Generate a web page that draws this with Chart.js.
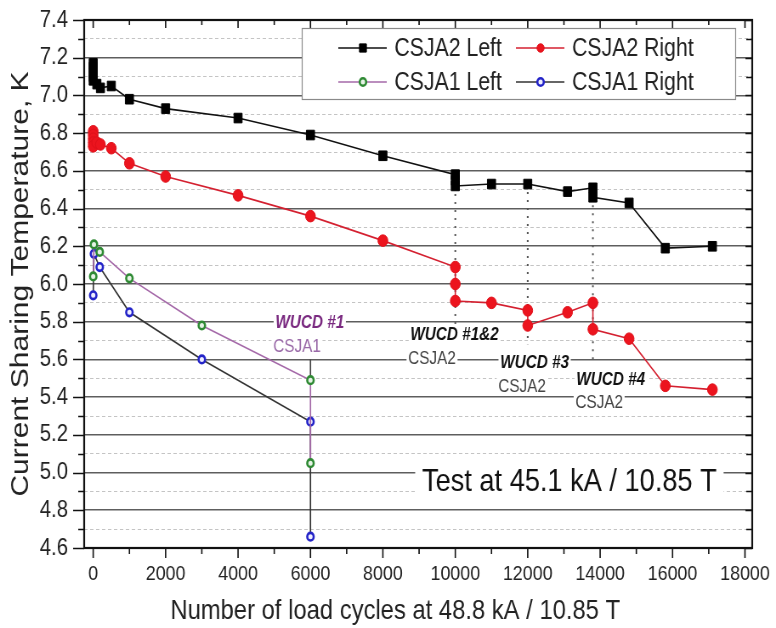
<!DOCTYPE html>
<html>
<head>
<meta charset="utf-8">
<script src="https://cdn.jsdelivr.net/npm/chart.js@4.4.1/dist/chart.umd.min.js"></script>
<style>
  html, body { margin: 0; padding: 0; background: #fff; overflow: hidden; }
  /* the source figure is squeezed sideways: draw wide, show at 776px */
  #chart { width: 776px !important; height: 628px !important; display: block; }
</style>
</head>
<body>
<canvas id="chart" width="913" height="628" style="width:776px;height:628px"></canvas>
<script>
// axis ticks
const xTicks = [0, 2000, 4000, 6000, 8000, 10000, 12000, 14000, 16000, 18000];
const xMinorTicks = [1000, 3000, 5000, 7000, 9000, 11000, 13000, 15000, 17000];
const yTicks = [4.6, 4.8, 5.0, 5.2, 5.4, 5.6, 5.8, 6.0, 6.2, 6.4, 6.6, 6.8, 7.0, 7.2, 7.4];
const yMinorTicks = [4.7, 4.9, 5.1, 5.3, 5.5, 5.7, 5.9, 6.1, 6.3, 6.5, 6.7, 6.9, 7.1, 7.3];

// CSJA2 Left
const csja2LeftX = [0, 0, 0, 0, 0, 100, 200, 500, 1000, 2000, 4000, 6000, 8000, 10000, 10000, 10000, 11000, 12000, 13100, 13800, 13800, 14800, 15800, 17100];
const csja2LeftY = [7.17, 7.15, 7.12, 7.10, 7.08, 7.06, 7.04, 7.05, 6.98, 6.93, 6.88, 6.79, 6.68, 6.58, 6.55, 6.52, 6.53, 6.53, 6.49, 6.51, 6.46, 6.43, 6.19, 6.20];

// CSJA2 Right
const csja2RightX = [0, 0, 0, 0, 0, 100, 200, 500, 1000, 2000, 4000, 6000, 8000, 10000, 10000, 10000, 11000, 12000, 12000, 13100, 13800, 13800, 14800, 15800, 17100];
const csja2RightY = [6.81, 6.79, 6.77, 6.75, 6.73, 6.75, 6.74, 6.72, 6.64, 6.57, 6.47, 6.36, 6.23, 6.09, 6.00, 5.91, 5.90, 5.86, 5.78, 5.85, 5.90, 5.76, 5.71, 5.46, 5.44];

// CSJA1 Left
const csja1LeftX = [0, 20, 180, 1000, 3000, 6000, 6000];
const csja1LeftY = [6.04, 6.21, 6.17, 6.03, 5.78, 5.49, 5.05];

// CSJA1 Right
const csja1RightX = [0, 20, 180, 1000, 3000, 6000, 6000];
const csja1RightY = [5.94, 6.16, 6.09, 5.85, 5.60, 5.27, 4.66];

// WUCD marker lines
const wucdDottedX = [10000, 12000, 13800];
const wucdDottedTop = [6.52, 6.53, 6.46];
const wucdDottedBottom = [5.78, 5.68, 5.60];
const wucd1LineX = [6000, 6000];
const wucd1LineY = [5.60, 5.49];

const xTitle = 'Number of load cycles at 48.8 kA / 10.85 T';
const yTitle = 'Current Sharing Temperature, K';

const SANS = "'Liberation Sans', Arial, sans-serif";

function pts(xs, ys) {
  return xs.map((x, i) => ({ x: x, y: ys[i] }));
}

const isMajorY = v => Math.round(v * 10) % 2 === 0;

const datasets = [
  {
    label: 'CSJA2 Left',
    data: pts(csja2LeftX, csja2LeftY),
    borderColor: '#111', backgroundColor: '#000',
    borderWidth: 1.6, pointStyle: 'rect', pointRadius: 6.8,
    pointBorderWidth: 1, pointBorderColor: '#000', pointBackgroundColor: '#000'
  },
  {
    label: 'CSJA2 Right',
    data: pts(csja2RightX, csja2RightY),
    borderColor: '#d42030', backgroundColor: '#e8121c',
    borderWidth: 1.6, pointStyle: 'circle', pointRadius: 5.8,
    pointBorderWidth: 1, pointBorderColor: '#e0101a', pointBackgroundColor: '#ec141e'
  },
  {
    label: 'CSJA1 Left',
    data: pts(csja1LeftX, csja1LeftY),
    borderColor: '#a468a8', backgroundColor: '#e6f3e6',
    borderWidth: 1.6, pointStyle: 'circle', pointRadius: 3.8,
    pointBorderWidth: 2.6, pointBorderColor: '#2f8a34', pointBackgroundColor: '#e6f3e6'
  },
  {
    label: 'CSJA1 Right',
    data: pts(csja1RightX, csja1RightY),
    borderColor: '#333', backgroundColor: '#eeeeff',
    borderWidth: 1.6, pointStyle: 'circle', pointRadius: 3.8,
    pointBorderWidth: 2.6, pointBorderColor: '#2424c8', pointBackgroundColor: '#eeeeff'
  }
];

wucdDottedX.forEach((x, i) => {
  datasets.push({
    label: 'wucd',
    data: pts([x, x], [wucdDottedTop[i], wucdDottedBottom[i]]),
    borderColor: '#555', borderWidth: 2, borderDash: [2, 6],
    pointRadius: 0, pointHoverRadius: 0
  });
});
datasets.push({
  label: 'wucd',
  data: pts(wucd1LineX, wucd1LineY),
  borderColor: '#444', borderWidth: 1.6,
  pointRadius: 0, pointHoverRadius: 0
});

// text notes, anchored in data units (left edge, vertical centre)
const notes = [
  { x: 5030, y: 5.793, text: 'WUCD #1', font: 'italic bold 18px ' + SANS, color: '#7a2a80' },
  { x: 4970, y: 5.666, text: 'CSJA1', font: '18px ' + SANS, color: '#9a6aa8' },
  { x: 8760, y: 5.73, text: 'WUCD #1&2', font: 'italic bold 18px ' + SANS, color: '#111' },
  { x: 8700, y: 5.602, text: 'CSJA2', font: '18px ' + SANS, color: '#444' },
  { x: 11240, y: 5.581, text: 'WUCD #3', font: 'italic bold 18px ' + SANS, color: '#111' },
  { x: 11190, y: 5.454, text: 'CSJA2', font: '18px ' + SANS, color: '#444' },
  { x: 13340, y: 5.491, text: 'WUCD #4', font: 'italic bold 18px ' + SANS, color: '#111' },
  { x: 13315, y: 5.369, text: 'CSJA2', font: '18px ' + SANS, color: '#444' },
  { x: 9080, y: 4.947, text: 'Test at 45.1 kA / 10.85 T', font: '32px ' + SANS, color: '#111', pad: [8, 22] }
];

const notesPlugin = {
  id: 'notes',
  beforeDatasetsDraw(chart) {
    const ctx = chart.ctx;
    const xs = chart.scales.x, ys = chart.scales.y;
    ctx.save();
    notes.forEach(n => {
      const px = xs.getPixelForValue(n.x);
      const py = ys.getPixelForValue(n.y);
      ctx.font = n.font;
      const w = ctx.measureText(n.text).width;
      const pad = n.pad || [2, 9];
      ctx.fillStyle = '#fff';
      ctx.fillRect(px - pad[0], py - pad[1], w + 2 * pad[0], 2 * pad[1]);
      ctx.fillStyle = n.color;
      ctx.textBaseline = 'middle';
      ctx.textAlign = 'left';
      ctx.fillText(n.text, px, py);
    });
    ctx.restore();
  }
};

// frame + tick marks on all four sides, and the x title (sits a bit left of centre)
const framePlugin = {
  id: 'frame',
  afterDatasetsDraw(chart) {
    const ctx = chart.ctx;
    const a = chart.chartArea;
    const xs = chart.scales.x, ys = chart.scales.y;
    ctx.save();
    ctx.strokeStyle = '#111';
    ctx.lineWidth = 1.6;
    ctx.beginPath();
    xTicks.forEach(v => {
      const p = xs.getPixelForValue(v);
      ctx.moveTo(p, a.bottom); ctx.lineTo(p, a.bottom + 10);
      ctx.moveTo(p, a.top); ctx.lineTo(p, a.top + 8);
    });
    xMinorTicks.forEach(v => {
      const p = xs.getPixelForValue(v);
      ctx.moveTo(p, a.bottom); ctx.lineTo(p, a.bottom + 6);
      ctx.moveTo(p, a.top); ctx.lineTo(p, a.top + 5);
    });
    ctx.stroke();
    ctx.lineWidth = 1.3;
    ctx.beginPath();
    yTicks.forEach(v => {
      const p = Math.round(ys.getPixelForValue(v)) + 0.5;
      ctx.moveTo(a.left, p); ctx.lineTo(a.left - 13, p);
      ctx.moveTo(a.right, p); ctx.lineTo(a.right - 8, p);
    });
    yMinorTicks.forEach(v => {
      const p = Math.round(ys.getPixelForValue(v)) + 0.5;
      ctx.moveTo(a.left, p); ctx.lineTo(a.left - 7, p);
      ctx.moveTo(a.right, p); ctx.lineTo(a.right - 7, p);
    });
    ctx.stroke();
    ctx.lineWidth = 2.2;
    ctx.strokeRect(a.left, a.top, a.right - a.left, a.bottom - a.top);

    ctx.fillStyle = '#222';
    ctx.font = '28px ' + SANS;
    ctx.textAlign = 'center';
    ctx.textBaseline = 'middle';
    ctx.fillText(xTitle, (a.left + a.right) / 2 - 27, 611);
    ctx.restore();
  }
};

// legend drawn inside the plot from the dataset styles
const legendPlugin = {
  id: 'boxLegend',
  afterDatasetsDraw(chart) {
    const ctx = chart.ctx;
    const box = { left: 355, top: 28, right: 865, bottom: 99 };
    const slots = [
      { x: 398, y: 48 }, { x: 607, y: 48 },
      { x: 398, y: 82 }, { x: 607, y: 82 }
    ];
    ctx.save();
    ctx.fillStyle = '#fff';
    ctx.fillRect(box.left, box.top, box.right - box.left, box.bottom - box.top);
    ctx.strokeStyle = '#8a8a8a';
    ctx.lineWidth = 1.2;
    ctx.strokeRect(box.left + 0.5, box.top + 0.5, box.right - box.left, box.bottom - box.top);
    chart.data.datasets.slice(0, 4).forEach((ds, i) => {
      const s = slots[i];
      ctx.strokeStyle = ds.borderColor;
      ctx.lineWidth = 1.6;
      ctx.setLineDash([]);
      ctx.beginPath();
      ctx.moveTo(s.x, s.y); ctx.lineTo(s.x + 57, s.y);
      ctx.stroke();
      ctx.fillStyle = ds.pointBackgroundColor;
      ctx.strokeStyle = ds.pointBorderColor;
      ctx.lineWidth = ds.pointBorderWidth;
      Chart.helpers.drawPoint(ctx, {
        pointStyle: ds.pointStyle,
        radius: ds.pointStyle === 'rect' ? 5.8 : Math.min(ds.pointRadius, 4.2),
        borderWidth: ds.pointBorderWidth,
        rotation: 0
      }, s.x + 29, s.y);
      ctx.fillStyle = '#222';
      ctx.font = '25px ' + SANS;
      ctx.textBaseline = 'middle';
      ctx.fillText(ds.label, s.x + 66, s.y + 1);
    });
    ctx.restore();
  }
};

const ctx = document.getElementById('chart').getContext('2d');
new Chart(ctx, {
  type: 'line',
  data: { datasets: datasets },
  plugins: [notesPlugin, framePlugin, legendPlugin],
  options: {
    responsive: false,
    animation: false,
    devicePixelRatio: 1,
    layout: { padding: { left: 0, top: 20, right: 28, bottom: 0 } },
    plugins: {
      legend: { display: false },
      tooltip: { enabled: false }
    },
    elements: { line: { tension: 0, fill: false } },
    scales: {
      x: {
        type: 'linear',
        min: -250,
        max: 18200,
        afterBuildTicks: scale => { scale.ticks = xTicks.map(v => ({ value: v })); },
        afterFit: scale => {
          scale.height = 80;
          scale.paddingLeft = 0;
          scale.paddingRight = 0;
        },
        grid: { drawOnChartArea: false, drawTicks: false },
        border: { display: false },
        ticks: {
          autoSkip: false,
          maxRotation: 0,
          padding: 14,
          color: '#222',
          font: { family: SANS, size: 21 },
          callback: v => String(v)
        },
        title: { display: false, text: xTitle }
      },
      y: {
        type: 'linear',
        min: 4.6,
        max: 7.4,
        afterBuildTicks: scale => {
          scale.ticks = yTicks.concat(yMinorTicks).sort((a, b) => a - b).map(v => ({ value: v }));
        },
        afterFit: scale => {
          scale.width = 99;
          scale.paddingTop = 0;
          scale.paddingBottom = 0;
        },
        grid: {
          drawTicks: false,
          color: c => (c.tick && isMajorY(c.tick.value)) ? '#5e5e5e' : '#c4c4c4',
          lineWidth: c => (c.tick && isMajorY(c.tick.value)) ? 1.6 : 1
        },
        border: {
          display: false,
          dash: c => (c.tick && !isMajorY(c.tick.value)) ? [4, 3] : []
        },
        ticks: {
          autoSkip: false,
          padding: 19,
          color: '#222',
          font: { family: SANS, size: 24 },
          callback: v => isMajorY(v) ? v.toFixed(1) : ''
        },
        title: {
          display: true,
          text: yTitle,
          color: '#222',
          font: { family: SANS, size: 30 },
          padding: { top: 7, bottom: 0 }
        }
      }
    }
  }
});
</script>
</body>
</html>
